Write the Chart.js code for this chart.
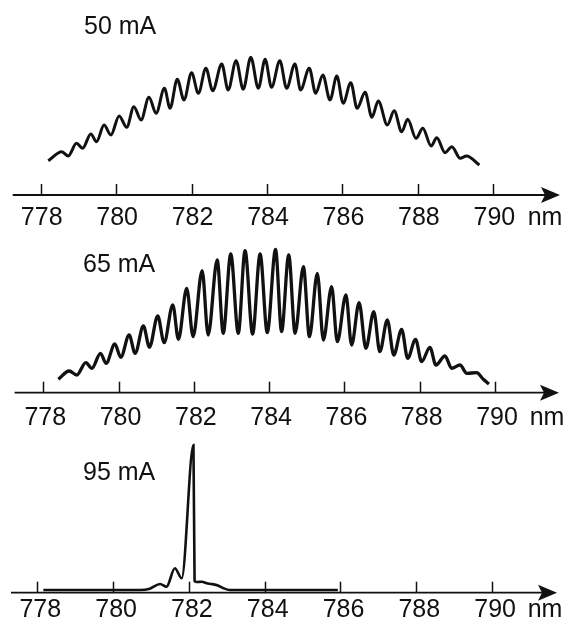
<!DOCTYPE html>
<html><head><meta charset="utf-8">
<script src="https://cdn.jsdelivr.net/npm/chart.js@4.4.1/dist/chart.umd.min.js"></script>
<style>
html,body{margin:0;padding:0;background:#fff;width:570px;height:631px;overflow:hidden}
canvas{position:absolute;left:0;top:0}
</style></head>
<body>
<canvas id="c1" width="570" height="631"></canvas>
<canvas id="c2" width="570" height="631"></canvas>
<canvas id="c3" width="570" height="631"></canvas>
<script>
// ---- data (wavelength in nm, intensity in arbitrary units) ----
const tickValues = [778, 780, 782, 784, 786, 788, 790];
const unitLabel = 'nm';
const currentLabels = ['50 mA', '65 mA', '95 mA'];

const wl50 = [778.20,778.56,778.73,778.95,779.11,779.33,779.48,779.68,779.86,780.08,780.28,780.47,780.66,780.87,781.06,781.28,781.43,781.62,781.80,782.00,782.18,782.38,782.56,782.80,782.97,783.18,783.37,783.57,783.77,783.95,784.12,784.34,784.52,784.74,784.89,785.12,785.29,785.48,785.67,785.85,786.02,786.22,786.39,786.60,786.78,786.95,787.19,787.37,787.57,787.73,787.95,788.13,788.35,788.50,788.72,788.90,789.12,789.29,789.63];
const int50 = [34.3,43.3,39,51.7,46.7,61,53.3,70,60,79,67.7,88.3,75,97.7,81.7,106.7,86.7,115.7,95,122.3,101.7,126.7,104.3,131,105,134.3,105.7,137.7,106.7,135.7,107.7,134.3,106.7,131,105,126.7,101.7,120,95,119,91.7,112.3,86.7,102.7,77.7,94,70,84.3,63.3,75.7,56.7,66.7,49,57.3,42.3,48.3,36.7,39,30];

const wl65 = [778.40,778.69,778.89,779.13,779.29,779.52,779.67,779.90,780.06,780.28,780.44,780.66,780.82,781.04,781.21,781.44,781.59,781.81,781.98,782.22,782.38,782.62,782.78,782.98,783.18,783.36,783.56,783.76,783.95,784.17,784.33,784.52,784.69,784.91,785.07,785.28,785.44,785.66,785.81,786.04,786.19,786.39,786.57,786.78,786.94,787.14,787.31,787.52,787.68,787.89,788.05,788.27,788.43,788.67,788.85,789.07,789.25,789.51,789.69,789.84];
const int65 = [13.4,21.7,17.7,30,24.4,39.4,29.4,48.7,35.4,57.7,39.4,66.7,45.4,76.7,50,87.7,53.4,104.4,56,122,57.7,132.7,59.4,138.7,59.4,142,58.7,138.7,60,143.4,61.2,137.7,59.4,126,56,119.4,52.7,106,51,97.7,47.7,90,44.4,81,41,72.7,37.7,63.4,34.4,53.4,31,45.4,27.7,36.7,24.4,27.7,19.4,20,13.4,8.7];

const wl95 = [778.16,780.71,780.97,781.24,781.41,781.63,781.81,782.12,782.15,782.21,782.34,782.47,782.60,782.78,782.90,783.08,785.93];
const int95 = [2.7,2.7,4,8.7,6,24.4,14.4,147.7,11.7,10.7,11,9.4,8.7,7,4.7,2.7,2.7];

// ---- layout (pixels) ----
const FONT = "'Liberation Sans', Arial, Helvetica, sans-serif";
const panels = [
  {id:'c1', wl:wl50, val:int50, label:currentLabels[0], left:12.7, right:560, top:40,  axisY:195,   axisH:45, xMin:777.258, xMax:791.767, lw:3.0, tickPad:8,    labelOffset:1, textX:84, textY:34,  unitX:545},
  {id:'c2', wl:wl65, val:int65, label:currentLabels[1], left:14.6, right:559, top:240, axisY:392.7, axisH:45, xMin:777.238, xMax:791.70,  lw:3.3, tickPad:10.3, labelOffset:2, textX:83, textY:272, unitX:547},
  {id:'c3', wl:wl95, val:int95, label:currentLabels[2], left:11,   right:557, top:440, axisY:592.7, axisH:38, xMin:777.306, xMax:791.713, lw:2.6, tickPad:2.3,  labelOffset:3, textX:83, textY:480, unitX:545}
];
const W = 570, H = 631;

const axisPlugin = {
  id: 'arrowAxis',
  beforeDatasetsDraw(chart, args, opts) {
    const ctx = chart.ctx, ca = chart.chartArea, xs = chart.scales.x;
    const y = ca.bottom;
    ctx.save();
    ctx.strokeStyle = '#111'; ctx.fillStyle = '#111';
    ctx.lineWidth = 1.8;
    ctx.beginPath(); ctx.moveTo(ca.left, y); ctx.lineTo(ca.right - 14, y); ctx.stroke();
    ctx.beginPath();
    ctx.moveTo(ca.right, y); ctx.lineTo(ca.right - 19, y - 8); ctx.lineTo(ca.right - 15, y); ctx.lineTo(ca.right - 19, y + 8);
    ctx.closePath(); ctx.fill();
    ctx.lineWidth = 1.5;
    tickValues.forEach(v => {
      const px = Math.round(xs.getPixelForValue(v)) + 0.5;
      ctx.beginPath(); ctx.moveTo(px, y); ctx.lineTo(px, y - 11); ctx.stroke();
    });
    ctx.restore();
  },
  afterDraw(chart, args, opts) {
    const ctx = chart.ctx, ca = chart.chartArea;
    const p = opts.panel;
    ctx.save();
    ctx.fillStyle = '#111';
    ctx.font = '25px ' + FONT;
    ctx.textAlign = 'center'; ctx.textBaseline = 'middle';
    ctx.fillText(unitLabel, p.unitX, ca.bottom + p.tickPad + 15);
    ctx.font = '25px ' + FONT;
    ctx.textAlign = 'left'; ctx.textBaseline = 'alphabetic';
    ctx.fillText(p.label, p.textX, p.textY);
    ctx.restore();
  }
};

panels.forEach(p => {
  new Chart(document.getElementById(p.id), {
    type: 'line',
    data: {
      datasets: [{
        data: p.wl.map((w, i) => ({x: w, y: p.val[i]})),
        borderColor: '#111',
        borderWidth: p.lw,
        pointRadius: 0,
        fill: false,
        cubicInterpolationMode: 'monotone',
        clip: false
      }]
    },
    options: {
      responsive: false,
      animation: false,
      events: [],
      layout: {padding: {left: p.left, right: W - p.right, top: p.top, bottom: H - p.axisY - p.axisH}},
      plugins: {legend: {display: false}, tooltip: {enabled: false}, arrowAxis: {panel: p}},
      scales: {
        x: {
          type: 'linear', min: p.xMin, max: p.xMax,
          afterBuildTicks: s => { s.ticks = tickValues.map(v => ({value: v})); },
          afterFit: s => { s.height = p.axisH; },
          grid: {display: false, drawTicks: false},
          border: {display: false},
          ticks: {color: '#111', font: {family: FONT, size: 25}, padding: p.tickPad, maxRotation: 0, autoSkip: false, labelOffset: p.labelOffset,
                  callback: v => String(v)}
        },
        y: {type: 'linear', display: false, min: 0, max: p.axisY - p.top}
      }
    },
    plugins: [axisPlugin]
  });
});
</script>
</body></html>
